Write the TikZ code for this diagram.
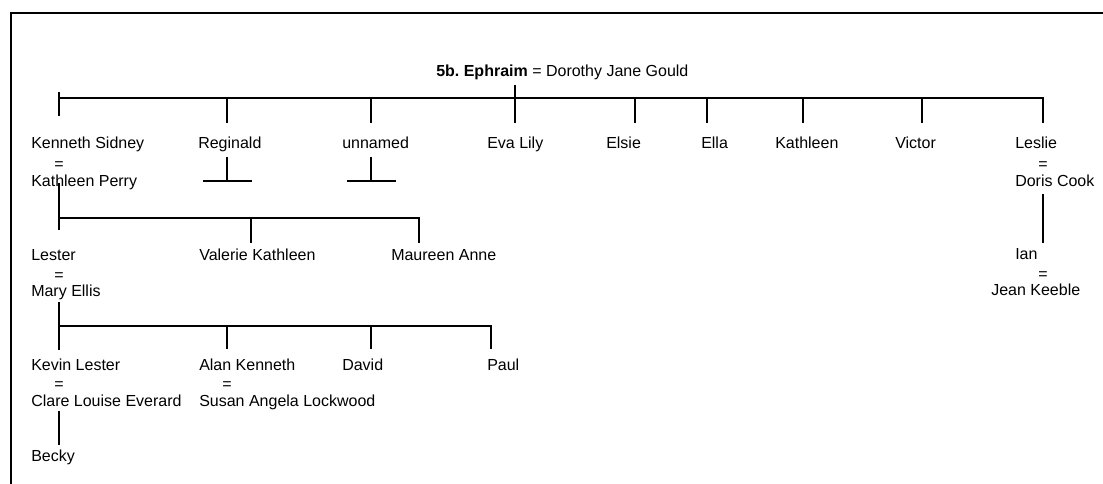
\documentclass[tikz,border=0pt]{standalone}
\usepackage{fontspec}
\setmainfont{Liberation Sans}
\frenchspacing
\begin{document}
\begin{tikzpicture}[x=0.75pt,y=-0.75pt,
  line/.style={line width=1.5pt},
  person/.style={anchor=base west, inner sep=0pt, font=\fontsize{12}{14}\selectfont},
  eqsign/.style={anchor=base, inner sep=0pt, font=\fontsize{12}{14}\selectfont}]
\useasboundingbox (0,0) rectangle (1103,483);
\fill[white] (0,0) rectangle (1103,483);
% frame
\coordinate (fBL) at (11,484);
\coordinate (fTL) at (11,13);
\coordinate (fTR) at (1104,13);
\draw[line] (fBL) -- (fTL) -- (fTR);

% title
\node[person] (title) at (436,76) {\textbf{5b. Ephraim} = Dorothy Jane Gould};

% generation 1 connectors
\coordinate (tstem) at (515,85);
\coordinate (evatop) at (515,123);
\draw[line] (tstem) -- (evatop);
\coordinate (g1tickA) at (59,92);
\coordinate (g1tickB) at (59,116);
\draw[line] (g1tickA) -- (g1tickB);
\coordinate (g1L) at (59,98);
\coordinate (g1R) at (1043,98);
\coordinate (lesltop) at (1043,123);
\draw[line] (g1L) -- (g1R) -- (lesltop);
\foreach \n/\x in {reg/227,unn/371,els/635,ella/707,kath/803,vic/922}{
  \coordinate (\n top) at (\x,98);
  \coordinate (\n bot) at (\x,123);
  \draw[line] (\n top) -- (\n bot);
}

% generation 1 names
\node[person] (kenneth) at (31,148.5) {Kenneth Sidney};
\node[eqsign] (keneq) at (59,169) {=};
\node[person] (kperry) at (31,186) {Kathleen Perry};
\node[person] (reginald) at (198,148.5) {Reginald};
\node[person] (unnamed) at (342,148.5) {unnamed};
\node[person] (eva) at (487,148.5) {Eva Lily};
\node[person] (elsie) at (606,148.5) {Elsie};
\node[person] (ellan) at (701,148.5) {Ella};
\node[person] (kathleen) at (775,148.5) {Kathleen};
\node[person] (victor) at (895,148.5) {Victor};
\node[person] (leslie) at (1015,148.5) {Leslie};
\node[eqsign] (leseq) at (1043,169) {=};
\node[person] (doris) at (1015,186) {Doris Cook};

% no issue bars
\coordinate (regA) at (227,157);
\coordinate (regB) at (227,181);
\coordinate (regL) at (203,181);
\coordinate (regR) at (252,181);
\draw[line] (regA) -- (regB);
\draw[line] (regL) -- (regR);
\coordinate (unnA) at (371,157);
\coordinate (unnB) at (371,181);
\coordinate (unnL) at (347,181);
\coordinate (unnR) at (396,181);
\draw[line] (unnA) -- (unnB);
\draw[line] (unnL) -- (unnR);

% generation 2 connectors
\coordinate (k1) at (59,183);
\coordinate (k2) at (59,230);
\draw[line] (k1) -- (k2);
\coordinate (g2L) at (59,218);
\coordinate (g2R) at (419,218);
\coordinate (maurtop) at (419,243);
\draw[line] (g2L) -- (g2R) -- (maurtop);
\coordinate (valA) at (251,218);
\coordinate (valB) at (251,243);
\draw[line] (valA) -- (valB);

% generation 2 names
\node[person] (lester) at (31,260) {Lester};
\node[eqsign] (lesteq) at (59,280.5) {=};
\node[person] (mary) at (31,296.5) {Mary Ellis};
\node[person] (valerie) at (199,260) {Valerie Kathleen};
\node[person] (maureen) at (391,260) {Maureen Anne};

% Leslie line
\coordinate (lsA) at (1043,194);
\coordinate (lsB) at (1043,243);
\draw[line] (lsA) -- (lsB);
\node[person] (ian) at (1015,259) {Ian};
\node[eqsign] (ianeq) at (1043,279.5) {=};
\node[person] (jean) at (991,295) {Jean Keeble};

% generation 3 connectors
\coordinate (m1) at (59,302);
\coordinate (m2) at (59,350);
\draw[line] (m1) -- (m2);
\coordinate (g3L) at (59,326);
\coordinate (g3R) at (491,326);
\coordinate (paultop) at (491,349);
\draw[line] (g3L) -- (g3R) -- (paultop);
\coordinate (alanA) at (227,326);
\coordinate (alanB) at (227,349);
\draw[line] (alanA) -- (alanB);
\coordinate (davA) at (371,326);
\coordinate (davB) at (371,349);
\draw[line] (davA) -- (davB);

% generation 3 names
\node[person] (kevin) at (31,370) {Kevin Lester};
\node[eqsign] (keveq) at (59,389.5) {=};
\node[person] (clare) at (31,406.5) {Clare Louise Everard};
\node[person] (alan) at (199,370) {Alan Kenneth};
\node[eqsign] (alaneq) at (227,389.5) {=};
\node[person] (susan) at (199,406.5) {Susan Angela Lockwood};
\node[person] (david) at (342,370) {David};
\node[person] (paul) at (487,370) {Paul};

% Becky
\coordinate (bA) at (59,411);
\coordinate (bB) at (59,445);
\draw[line] (bA) -- (bB);
\node[person] (becky) at (31,461.5) {Becky};
\end{tikzpicture}
\end{document}
